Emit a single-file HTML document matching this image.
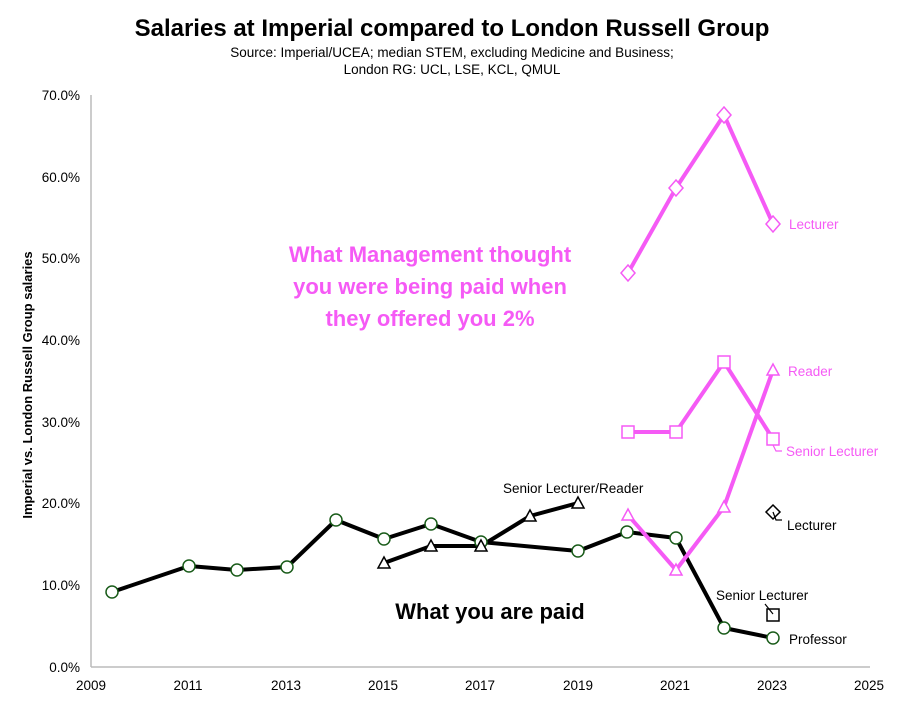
<!DOCTYPE html>
<html><head><style>
body{margin:0;background:#fff;}
svg text{font-family:"Liberation Sans",sans-serif;}
</style></head><body>
<svg width="904" height="700" viewBox="0 0 904 700" xmlns="http://www.w3.org/2000/svg">
<text x="452" y="36" text-anchor="middle" font-size="24" font-weight="bold" fill="#000">Salaries at Imperial compared to London Russell Group</text>
<text x="452" y="57" text-anchor="middle" font-size="13.5">Source: Imperial/UCEA; median STEM, excluding Medicine and Business;</text>
<text x="452" y="74" text-anchor="middle" font-size="13.5">London RG: UCL, LSE, KCL, QMUL</text>
<g stroke="#bbb" stroke-width="1.5"><line x1="91" y1="95" x2="91" y2="667"/><line x1="91" y1="667" x2="870" y2="667"/></g>
<g font-size="13.5" text-anchor="end">
<text x="80" y="100">70.0%</text><text x="80" y="182">60.0%</text><text x="80" y="263">50.0%</text><text x="80" y="345">40.0%</text><text x="80" y="427">30.0%</text><text x="80" y="508">20.0%</text><text x="80" y="590">10.0%</text><text x="80" y="672">0.0%</text></g>
<g font-size="13.5" text-anchor="middle">
<text x="91" y="690">2009</text><text x="188" y="690">2011</text><text x="286" y="690">2013</text><text x="383" y="690">2015</text><text x="480" y="690">2017</text><text x="578" y="690">2019</text><text x="675" y="690">2021</text><text x="772" y="690">2023</text><text x="869" y="690">2025</text></g>
<text transform="translate(32,385) rotate(-90)" text-anchor="middle" font-size="13" font-weight="bold">Imperial vs. London Russell Group salaries</text>
<g fill="none" stroke-width="4" stroke-linejoin="round">
<polyline stroke="#000" points="112,592 189,566 237,570 287,567 336,520 384,539 431,524 481,542 578,551 627,532 676,538 724,628 773,638"/>
<polyline stroke="#000" points="384,563 431,546 481,546 530,516 578,503"/>
<polyline stroke="#f55af5" points="628,273 676,188 724,115 773,224"/>
<polyline stroke="#f55af5" points="628,432 676,432 724,362 773,439"/>
<polyline stroke="#f55af5" points="628,515 676,570 724,507 773,370"/>
</g>
<g fill="#fff" stroke="#1a5c1a" stroke-width="1.5">
<circle cx="112" cy="592" r="6"/><circle cx="189" cy="566" r="6"/><circle cx="237" cy="570" r="6"/><circle cx="287" cy="567" r="6"/><circle cx="336" cy="520" r="6"/><circle cx="384" cy="539" r="6"/><circle cx="431" cy="524" r="6"/><circle cx="481" cy="542" r="6"/><circle cx="578" cy="551" r="6"/><circle cx="627" cy="532" r="6"/><circle cx="676" cy="538" r="6"/><circle cx="724" cy="628" r="6"/><circle cx="773" cy="638" r="6"/></g>
<g fill="#fff" stroke="#000" stroke-width="1.5">
<polygon points="384,557 390,568 378,568"/><polygon points="431,540 437,551 425,551"/><polygon points="481,540 487,551 475,551"/><polygon points="530,510 536,521 524,521"/><polygon points="578,497 584,508 572,508"/>
<polygon points="773,505 780,512 773,519 766,512"/><rect x="767" y="609" width="12" height="12"/></g>
<g stroke="#000" stroke-width="1.2" fill="none"><polyline points="773,512 776,520 782,520"/><line x1="765" y1="604" x2="773" y2="614"/></g>
<g fill="#fff" stroke="#f55af5" stroke-width="1.5">
<polygon points="628,265 635,273 628,281 621,273"/><polygon points="676,180 683,188 676,196 669,188"/><polygon points="724,107 731,115 724,123 717,115"/><polygon points="773,216 780,224 773,232 766,224"/>
<rect x="622" y="426" width="12" height="12"/><rect x="670" y="426" width="12" height="12"/><rect x="718" y="356" width="12" height="12"/><rect x="767" y="433" width="12" height="12"/>
<polygon points="628,509 634,520 622,520"/><polygon points="676,564 682,575 670,575"/><polygon points="724,501 730,512 718,512"/><polygon points="773,364 779,375 767,375"/></g>
<polyline points="773,445 776,451 782,451" fill="none" stroke="#f55af5" stroke-width="1.2"/>
<g font-size="13.5" fill="#f55af5"><text x="789" y="229">Lecturer</text><text x="788" y="376">Reader</text><text x="786" y="456">Senior Lecturer</text></g>
<g font-size="13.5" fill="#000"><text x="787" y="530">Lecturer</text><text x="716" y="600">Senior Lecturer</text><text x="789" y="644">Professor</text><text x="503" y="493">Senior Lecturer/Reader</text></g>
<g font-size="22" font-weight="bold" fill="#f55af5" text-anchor="middle"><text x="430" y="262">What Management thought</text><text x="430" y="294">you were being paid when</text><text x="430" y="326">they offered you 2%</text></g>
<text x="490" y="619" font-size="22" font-weight="bold" text-anchor="middle">What you are paid</text>
</svg>
</body></html>
